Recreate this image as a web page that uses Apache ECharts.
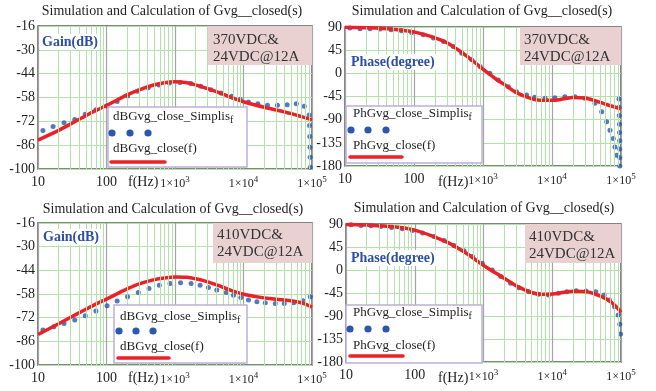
<!DOCTYPE html>
<html>
<head>
<meta charset="utf-8">
<script src="https://cdn.jsdelivr.net/npm/echarts@6/dist/echarts.min.js"></script>
<style>
  html, body { margin: 0; padding: 0; background: #ffffff; }
  #chart { width: 656px; height: 391px; }
</style>
</head>
<body>
<div id="chart"></div>
<script>
// ---------- axis ticks ----------
const freqTicks  = [10, 100, 1000, 10000, 100000];
const gainTicks  = [-100, -86, -72, -58, -44, -30, -16];
const phaseTicks = [-180, -135, -90, -45, 0, 45, 90];
// green minor grid at 2..9 of every decade
const minorGridFreqs = [20, 30, 40, 50, 60, 70, 80, 90,
  200, 300, 400, 500, 600, 700, 800, 900,
  2000, 3000, 4000, 5000, 6000, 7000, 8000, 9000,
  20000, 30000, 40000, 50000, 60000, 70000, 80000, 90000];

// ---------- 370VDC gain ----------
const gain370SimF = [11.8, 16.6, 24, 34.4, 49, 70, 100, 143, 203, 284, 407, 581, 827, 1186, 1700, 2370, 3340, 4700, 6750, 8950, 11800, 16200, 22400, 31300, 43400, 59000, 77000, 91000, 92000, 93000, 93500, 94000, 94500];
const gain370Sim  = [-77.4, -75.0, -72.9, -70.9, -67.9, -65.2, -63.0, -60.3, -57.1, -54.4, -52.2, -50.6, -49.5, -49.2, -49.8, -51.4, -53.4, -55.4, -57.3, -59.1, -60.7, -61.6, -62.6, -62.6, -62.2, -61.6, -63.2, -68.3, -74.4, -80.9, -87.2, -93.1, -99.0];
const gain370CalcF = [10, 20, 30, 50, 70, 100, 200, 300, 500, 700, 1000, 1500, 2000, 3000, 5000, 7000, 10000, 20000, 30000, 50000, 70000, 100000];
const gain370Calc  = [-83.0, -77.3, -73.5, -68.7, -65.6, -62.7, -56.5, -53.5, -50.5, -49.3, -48.8, -49.3, -50.6, -52.8, -56.0, -58.4, -60.5, -63.7, -65.3, -67.5, -69.2, -71.1];

// ---------- 370VDC phase ----------
const phase370SimF = [11.8, 16.5, 23, 32, 46.5, 66, 92.5, 136, 191, 267, 372, 492, 687, 905, 1256, 1670, 2330, 3060, 4290, 5630, 7940, 11000, 15400, 21500, 30000, 42000, 52500, 62000, 69200, 77300, 81800, 86600, 93500, 94000, 94500, 95000, 95300, 95600, 95800, 96000, 96200];
const phase370Sim  = [88, 86.7, 86.7, 86, 84.7, 82.8, 79.5, 75, 68.5, 62, 52, 39.2, 26.2, 13.1, 0.2, -12.9, -26, -35.7, -42.2, -46.6, -48.6, -47.4, -45.4, -45.4, -48.6, -58.3, -74.7, -94, -110.5, -126.7, -143, -159.3, -50, -66, -82, -99, -115, -131, -147, -164, -180];
const phase370CalcF = [10, 20, 50, 100, 200, 300, 500, 700, 1000, 1500, 2000, 3000, 5000, 7000, 10000, 15000, 20000, 30000, 40000, 60000, 100000];
const phase370Calc  = [89.5, 88.5, 85.5, 80.5, 69, 59.5, 40, 25, 8, -10, -21, -37, -49, -52.5, -52.5, -49.5, -47, -48, -52, -60, -69];

// ---------- 410VDC gain ----------
const gain410SimF = [11.8, 17, 24, 34.4, 49, 70, 102, 143, 203, 291, 417, 590, 845, 1205, 1718, 2323, 3076, 4074, 5583, 7145, 9160, 11830, 15700, 20800, 29100, 39400, 54000, 74000, 94600];
const gain410Sim  = [-79.3, -77.4, -75.4, -73.4, -70.9, -68.0, -65.0, -62.2, -59.7, -57.1, -54.7, -52.8, -51.8, -51.4, -51.8, -52.8, -54.2, -55.7, -57.1, -58.7, -60.0, -61.6, -62.6, -63.2, -63.6, -63.6, -63.2, -62.0, -59.7];
const gain410CalcF = [10, 20, 30, 50, 70, 100, 200, 300, 500, 700, 1000, 1500, 2000, 3000, 5000, 7000, 10000, 20000, 40000, 60000, 80000, 100000];
const gain410Calc  = [-82.0, -75.6, -71.8, -67.0, -64.0, -61.0, -55.0, -52.0, -49.5, -48.5, -47.9, -48.1, -49.0, -50.8, -54.0, -56.3, -58.1, -60.3, -61.6, -62.6, -64.0, -65.8];

// ---------- 410VDC phase ----------
const phase410SimF = [11.8, 16.5, 23, 32, 46, 66, 92, 130, 191, 267, 372, 520, 690, 960, 1340, 1780, 2480, 3270, 4540, 6330, 8820, 12300, 16300, 22300, 31000, 43000, 57000, 68000, 80500, 91000, 96000, 98500];
const phase410Sim  = [88.6, 87.3, 86.7, 85.3, 83.3, 80.8, 77.4, 72.3, 65.7, 57.8, 48, 37.5, 26.4, 13.3, 0.2, -12.9, -26, -34.6, -42.4, -47.5, -48.9, -45.6, -42.4, -40.4, -41, -42.4, -48.9, -58.7, -71.9, -88.2, -106, -125];
const phase410CalcF = [10, 20, 50, 100, 200, 300, 500, 700, 1000, 1500, 2000, 3000, 5000, 7000, 10000, 15000, 20000, 30000, 40000, 60000, 80000, 100000];
const phase410Calc  = [89, 88, 84.5, 78, 64, 54, 37, 24, 9, -6, -16, -31, -44, -47.5, -47, -43.5, -41.5, -42, -46, -56, -68, -83];

// ---------- text ----------
const titleText = 'Simulation and Calculation of Gvg__closed(s)';
const cond370 = ['370VDC&', '24VDC@12A'];
const cond410 = ['410VDC&', '24VDC@12A'];

// ---------- styling ----------
const SERIF = "'Liberation Serif', 'Times New Roman', serif";
const GREEN = '#b2e2aa';
const DECADE = '#a4a4a4';
const BLUE = '#2b57ad';
const RED = '#ec2127';
const FRAME = '#5c5c5c';

const panels = [
  { grid: { left: 38,  top: 26,  width: 274, height: 143 }, ticks: gainTicks,  simF: gain370SimF,  sim: gain370Sim,  calcF: gain370CalcF,  calc: gain370Calc },
  { grid: { left: 345, top: 27,  width: 276, height: 139 }, ticks: phaseTicks, simF: phase370SimF, sim: phase370Sim, calcF: phase370CalcF, calc: phase370Calc },
  { grid: { left: 38,  top: 223, width: 274, height: 142 }, ticks: gainTicks,  simF: gain410SimF,  sim: gain410Sim,  calcF: gain410CalcF,  calc: gain410Calc },
  { grid: { left: 346, top: 224, width: 275, height: 138 }, ticks: phaseTicks, simF: phase410SimF, sim: phase410Sim, calcF: phase410CalcF, calc: phase410Calc }
];

const pairs = (xs, ys) => xs.map((x, i) => [x, ys[i]]);

const grids = [], xAxes = [], yAxes = [], series = [];
panels.forEach((p, i) => {
  grids.push(Object.assign({ show: true, borderColor: FRAME, borderWidth: 1.5, backgroundColor: 'transparent' }, p.grid));
  xAxes.push({
    type: 'log', logBase: 10, gridIndex: i,
    min: freqTicks[0], max: freqTicks[freqTicks.length - 1],
    axisLine: { show: false }, axisTick: { show: false },
    splitLine: { show: true, lineStyle: { color: DECADE, width: 1.2 } },
    axisLabel: {
      margin: 6, color: '#1e1e1e', fontFamily: SERIF,
      formatter: v => {
        const e = Math.round(Math.log10(v));
        if (e <= 2) return '{n|' + Math.round(v) + '}';
        return '{m|1×10}{s|' + e + '}';
      },
      rich: {
        n: { fontSize: 14, fontFamily: SERIF, color: '#1e1e1e' },
        m: { fontSize: 12, fontFamily: SERIF, color: '#1e1e1e' },
        s: { fontSize: 9, fontFamily: SERIF, color: '#1e1e1e', padding: [0, 0, 9, 0] }
      }
    }
  });
  yAxes.push({
    type: 'value', gridIndex: i,
    min: p.ticks[0], max: p.ticks[p.ticks.length - 1], interval: p.ticks[1] - p.ticks[0],
    axisLine: { show: false }, axisTick: { show: false },
    splitLine: { show: true, lineStyle: { color: GREEN, width: 1 } },
    axisLabel: { margin: 3, fontSize: 14, fontFamily: SERIF, color: '#1e1e1e' }
  });
  // minor log grid
  series.push({
    type: 'line', xAxisIndex: i, yAxisIndex: i, data: [], silent: true, z: 1,
    markLine: {
      silent: true, symbol: ['none', 'none'], animation: false,
      label: { show: false },
      lineStyle: { color: GREEN, width: 1, type: 'solid' },
      emphasis: { disabled: true },
      data: minorGridFreqs.map(f => ({ xAxis: f }))
    }
  });
  // simulated points
  series.push({
    type: 'scatter', xAxisIndex: i, yAxisIndex: i, z: 3,
    symbol: 'circle', symbolSize: 5,
    itemStyle: { color: BLUE },
    data: pairs(p.simF, p.sim)
  });
  // calculated curve
  series.push({
    type: 'line', xAxisIndex: i, yAxisIndex: i, z: 4,
    smooth: 0.35, showSymbol: false,
    lineStyle: { color: RED, width: 3.5 },
    data: pairs(p.calcF, p.calc)
  });
});

// ---------- overlays: titles, condition boxes, axis captions, legends ----------
const graphics = [];
function txt(x, y, s, opts) {
  graphics.push(Object.assign({
    type: 'text', x: x, y: y, z: 100,
    style: Object.assign({ text: s, font: '14px ' + SERIF, fill: '#1e1e1e', textVerticalAlign: 'middle' }, opts || {})
  }));
}
function condBox(x, y, w, h, lines, ty1, ty2, tx) {
  graphics.push({ type: 'rect', z: 90, shape: { x: x, y: y, width: w, height: h }, style: { fill: '#e9d1d1' } });
  txt(tx, ty1, lines[0], { font: '15px ' + SERIF, fill: '#333333' });
  txt(tx, ty2, lines[1], { font: '15px ' + SERIF, fill: '#333333' });
}
function legendBox(b, name1, name2) {
  graphics.push({ type: 'rect', z: 95, shape: { x: b.x, y: b.y, width: b.w, height: b.h },
    style: { fill: '#ffffff', stroke: '#bcaed8', lineWidth: 1.5 } });
  graphics.push({ type: 'text', x: b.tx, y: b.t1, z: 100,
    style: { text: '{a|' + name1 + '}{b|f}', textVerticalAlign: 'middle',
      rich: { a: { font: '13px ' + SERIF, fill: '#1e1e1e' }, b: { font: '10px ' + SERIF, fill: '#1e1e1e', padding: [6, 0, 0, 0] } } } });
  b.dots.forEach(dx => graphics.push({ type: 'circle', z: 100, shape: { cx: dx, cy: b.dy, r: 3.6 }, style: { fill: BLUE } }));
  txt(b.tx, b.t2, name2, { font: '13px ' + SERIF });
  graphics.push({ type: 'line', z: 100, shape: { x1: b.rx1, y1: b.ry, x2: b.rx2, y2: b.ry },
    style: { stroke: RED, lineWidth: 3.5, lineCap: 'round' } });
}
function axisCaption(x, y, s) {
  graphics.push({ type: 'text', x: x, y: y, z: 100,
    style: { text: s, font: 'bold 14px ' + SERIF, fill: '#2d4fa3', textVerticalAlign: 'middle',
      backgroundColor: '#ffffff', padding: [1, 2, 1, 2] } });
}

// titles
txt(172, 11, titleText, { textAlign: 'center' });
txt(482, 11, titleText, { textAlign: 'center' });
txt(173, 209, titleText, { textAlign: 'center' });
txt(484, 208, titleText, { textAlign: 'center' });

// condition boxes
condBox(208, 26, 104, 39, cond370, 40, 57, 213);
condBox(520, 27, 101, 38, cond370, 40, 57, 524);
condBox(213, 223, 99, 40, cond410, 235, 252, 217);
condBox(525, 224, 96, 39, cond410, 237, 254, 529);

// y captions
axisCaption(40, 42, 'Gain(dB)');
axisCaption(41, 237, 'Gain(dB)');
axisCaption(349, 62, 'Phase(degree)');
axisCaption(349, 258, 'Phase(degree)');

// frequency captions
txt(128, 182, 'f(Hz)');
txt(438, 182, 'f(Hz)');
txt(128, 378, 'f(Hz)');
txt(438, 378, 'f(Hz)');

// legends
legendBox({ x: 108, y: 107, w: 139, h: 60, tx: 113, t1: 117, t2: 149, dots: [112, 130, 148], dy: 133, rx1: 111, rx2: 165, ry: 162 },
  'dBGvg_close_Simplis', 'dBGvg_close(f)');
legendBox({ x: 346, y: 106, w: 136, h: 57, tx: 353, t1: 114, t2: 146, dots: [351, 368, 386], dy: 130, rx1: 350, rx2: 402, ry: 157 },
  'PhGvg_close_Simplis', 'PhGvg_close(f)');
legendBox({ x: 114, y: 305, w: 133, h: 58, tx: 120, t1: 317, t2: 347, dots: [119, 136, 153], dy: 331, rx1: 118, rx2: 169, ry: 358 },
  'dBGvg_close_Simplis', 'dBGvg_close(f)');
legendBox({ x: 346, y: 305, w: 136, h: 58, tx: 353, t1: 313, t2: 346, dots: [350, 368, 386], dy: 329, rx1: 350, rx2: 403, ry: 356 },
  'PhGvg_close_Simplis', 'PhGvg_close(f)');

const chart = echarts.init(document.getElementById('chart'), null, { renderer: 'canvas' });
chart.setOption({
  animation: false,
  backgroundColor: '#ffffff',
  grid: grids,
  xAxis: xAxes,
  yAxis: yAxes,
  series: series,
  graphic: graphics
});
</script>
</body>
</html>
